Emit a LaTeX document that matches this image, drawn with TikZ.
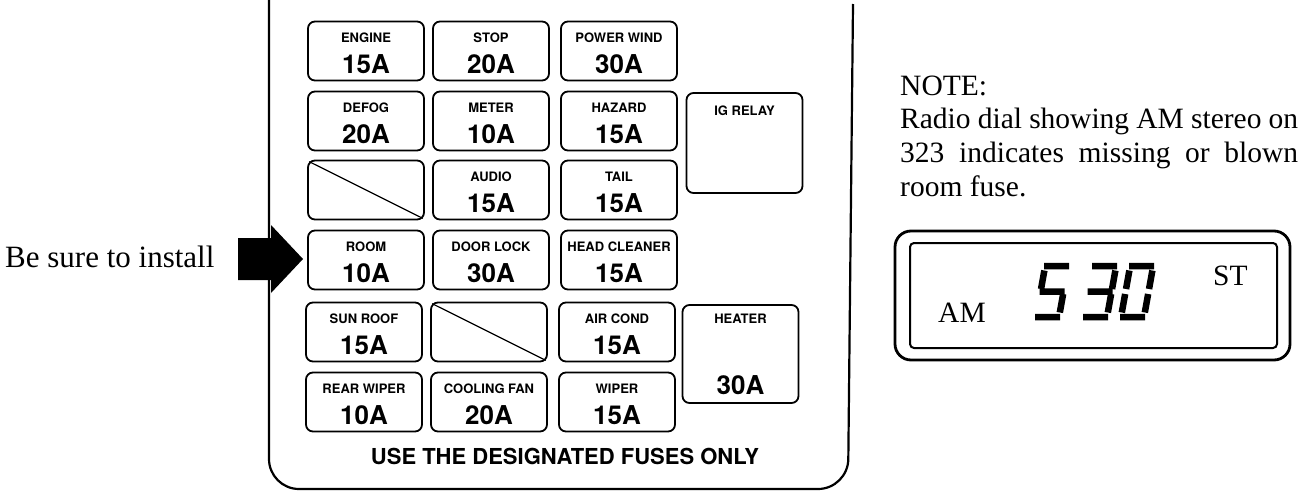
\documentclass[tikz,border=0pt]{standalone}
\usepackage{fontspec}
\setmainfont{Liberation Serif}
\newfontfamily\fusefont{texgyreheros}[Extension=.otf, UprightFont=*-regular, BoldFont=*-bold]
\usetikzlibrary{positioning}

\tikzset{
  panel/.style={line width=2.2pt, rounded corners=30pt},
  fuse/.style={draw, line width=1.8pt, rounded corners=7pt, minimum width=116pt, minimum height=59pt, inner sep=0pt},
  fuselbl/.style={font=\fusefont\bfseries\fontsize{13}{13}\selectfont, anchor=base, inner sep=0pt},
  fuseamp/.style={font=\fusefont\bfseries\fontsize{26}{26}\selectfont, anchor=base, inner sep=0pt},
  serif/.style={font=\fontsize{29.5}{29.5}\selectfont, anchor=base west, inner sep=0pt},
  seg/.style={line width=6.5pt}
}

\begin{document}
\begin{tikzpicture}[x=1pt,y=-1pt]
  \useasboundingbox (0,0) rectangle (1312,498);
  % fuse box outline
  \draw[panel] (269,0) -- (269,489) -- (848,489) -- (853,4);
  % fuses
  \foreach \n/\cx/\cy/\lbl/\amp in {engine/366/51/ENGINE/15A, stop/491/51/STOP/20A, powerwind/619/51/POWER WIND/30A,
      defog/366/121/DEFOG/20A, meter/491/121/METER/10A, hazard/619/121/HAZARD/15A,
      audio/491/190/AUDIO/15A, tail/619/190/TAIL/15A,
      room/366/260/ROOM/10A, doorlock/491/260/DOOR LOCK/30A, headclean/619/260/HEAD CLEANER/15A,
      sunroof/364/332/SUN ROOF/15A, aircond/617/332/AIR COND/15A,
      rearwiper/364/402/REAR WIPER/10A, coolfan/489/402/COOLING FAN/20A, wiper/617/402/WIPER/15A}{
    \node[fuse] (\n) at (\cx,\cy) {};
    \node[fuselbl] (\n-lbl) at ([yshift=9pt]\n.center) {\lbl};
    \node[fuseamp] (\n-amp) at ([yshift=-22pt]\n.center) {\amp};
  }
  % spare slots
  \node[fuse] (spare1) at (366,190) {};
  \node[fuse] (spare2) at (489,332) {};
  \draw[line width=1.2pt] ([shift={(2pt,-2pt)}]spare1.north west) -- ([shift={(-2pt,2pt)}]spare1.south east);
  \draw[line width=1.2pt] ([shift={(2pt,-2pt)}]spare2.north west) -- ([shift={(-2pt,2pt)}]spare2.south east);
  % relays
  \node[fuse, minimum height=100pt] (igrelay) at (744.5,143) {};
  \node[fuselbl] (igrelay-lbl) at ([yshift=28pt]igrelay.center) {IG RELAY};
  \node[fuse, minimum height=98pt] (heater) at (740.5,354) {};
  \node[fuselbl] (heater-lbl) at ([yshift=31pt]heater.center) {HEATER};
  \node[fuseamp] (heater-amp) at ([yshift=-40pt]heater.center) {30A};
  \node[font=\fusefont\bfseries\fontsize{22}{22}\selectfont, anchor=base, inner sep=0pt] (useonly) at (565,464) {USE THE DESIGNATED FUSES ONLY};
  % pointer
  \node[serif, font=\fontsize{31}{31}\selectfont] (install) at (5,267) {Be sure to install};
  \fill (238,238) -- (271,238) -- (271,225) -- (303,259) -- (271,293) -- (271,280) -- (238,280) -- cycle;
  % note
  \node[serif] (note1) at (900,95) {NOTE:};
  \node[serif] (note2) at (900,128) {\makebox[398pt][s]{Radio dial showing AM stereo on}};
  \node[serif] (note3) at (900,162) {\makebox[398pt][s]{323 indicates missing or blown}};
  \node[serif] (note4) at (900,196) {room fuse.};
  % radio display
  \draw[line width=2.8pt, rounded corners=16pt] (895,231) rectangle (1290,360);
  \draw[line width=2pt, rounded corners=4pt] (910,243) rectangle (1277,348);
  \node[serif] (am) at (938,322) {AM};
  \node[serif] (st) at (1213,285) {ST};
  % seven segment digits
  \begin{scope}[shift={(1036,317)}, xslant=0.18]
    \draw[seg] (-1,-51)--(24,-51) (0,-28)--(0,-46.5) (-1,-25.5)--(24,-25.5) (23,-23)--(23,-4.5) (-1,0)--(24,0);
  \end{scope}
  \begin{scope}[shift={(1084,317)}, xslant=0.18]
    \draw[seg] (-1,-51)--(24,-51) (23,-46.5)--(23,-28) (-1,-25.5)--(24,-25.5) (23,-23)--(23,-4.5) (-1,0)--(24,0);
  \end{scope}
  \begin{scope}[shift={(1121,317)}, xslant=0.18]
    \draw[seg] (-1,-51)--(24,-51) (23,-46.5)--(23,-28) (23,-23)--(23,-4.5) (-1,0)--(24,0) (0,-4.5)--(0,-23) (0,-28)--(0,-46.5);
  \end{scope}
\end{tikzpicture}
\end{document}
